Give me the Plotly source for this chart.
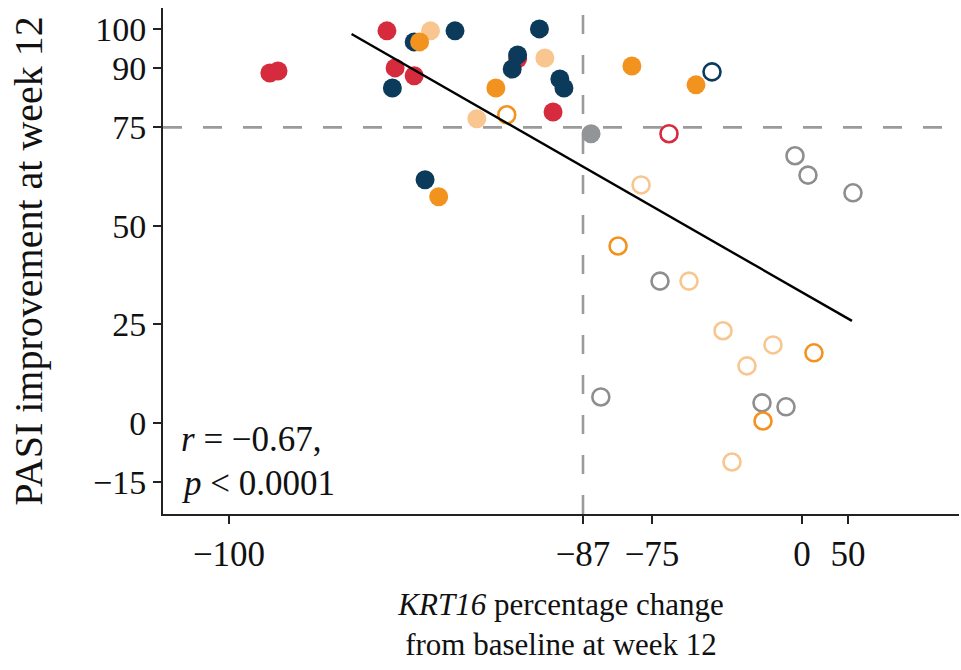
import numpy as np
import plotly.graph_objects as go

# KRT16 percentage change axis: tick values and their spacing along the axis
TICK_PCT = [-100, -87, -75, 0, 50]
TICK_TEXT = ["\u2212100", "\u221287", "\u221275", "0", "50"]
TICK_POS = [0, 354, 423, 573, 619]

Y_TICKS = [-15, 0, 25, 50, 75, 90, 100]

# Filled markers
red_x = [-98.5, -98.2, -94.2, -93.9, -93.2, -89.4, -88.1]
red_y = [88.8, 89.3, 99.5, 90.1, 88.1, 92.4, 78.9]
peach_x = [-92.6, -88.4, -90.9]
peach_y = [99.5, 92.6, 77.2]
navy_x = [-94.0, -93.2, -91.7, -92.8, -88.6, -89.4, -89.6, -87.85, -87.7]
navy_y = [85.0, 96.7, 99.5, 61.7, 100.0, 93.4, 89.8, 87.3, 85.0]
orange_x = [-93.0, -90.2, -92.3, -78.5, -53.0]
orange_y = [96.7, 85.0, 57.4, 90.6, 85.8]
grey_x = [-85.6]
grey_y = [73.4]

# Open markers
navy_open_x = [-45.0]
navy_open_y = [89.1]
red_open_x = [-66.5]
red_open_y = [73.4]
orange_open_x = [-89.8, -80.9, 13.0, -19.5]
orange_open_y = [78.2, 44.9, 17.8, 0.5]
peach_open_x = [-76.9, -56.5, -39.5, -14.5, -27.5, -35.0]
peach_open_y = [60.4, 36.0, 23.4, 19.8, 14.5, -9.9]
grey_open_x = [-71.0, -83.9, -20.0, -8.0, -3.5, 6.5, 55.4]
grey_open_y = [36.0, 6.6, 5.1, 4.1, 67.8, 62.9, 58.4]

# Regression line end points
fit_x = [-95.5, 54.3]
fit_y = [98.7, 25.9]

PASI_CUT = 75
KRT_CUT = -87

RED = "#D52B3C"
NAVY = "#0C3A5B"
ORANGE = "#F3931F"
PEACH = "#F8C68E"
GREY = "#929497"
GREY_OPEN = "#8E8E8E"


def to_axis(pct):
    """Map percentage change onto the piecewise axis scale."""
    p = np.asarray(pct, dtype=float)
    u = np.interp(p, TICK_PCT, TICK_POS)
    hi = (TICK_POS[-1] - TICK_POS[-2]) / (TICK_PCT[-1] - TICK_PCT[-2])
    u = np.where(p > TICK_PCT[-1], TICK_POS[-1] + (p - TICK_PCT[-1]) * hi, u)
    return u


FONT = "Liberation Serif"
fig = go.Figure()


def add_points(xs, ys, color, filled):
    if filled:
        marker = dict(symbol="circle", size=19, color=color, line=dict(width=0))
    else:
        marker = dict(symbol="circle-open", size=17, color=color,
                      line=dict(width=2.6, color=color))
    fig.add_trace(go.Scatter(x=to_axis(xs), y=ys, mode="markers",
                             marker=marker, showlegend=False, hoverinfo="skip"))


add_points(red_x, red_y, RED, True)
add_points(peach_x, peach_y, PEACH, True)
add_points(navy_x, navy_y, NAVY, True)
add_points(orange_x, orange_y, ORANGE, True)
add_points(grey_x, grey_y, GREY, True)
add_points(grey_open_x, grey_open_y, GREY_OPEN, False)
add_points(peach_open_x, peach_open_y, PEACH, False)
add_points(orange_open_x, orange_open_y, ORANGE, False)
add_points(red_open_x, red_open_y, RED, False)
add_points(navy_open_x, navy_open_y, NAVY, False)

fig.add_trace(go.Scatter(x=to_axis(fit_x), y=fit_y, mode="lines",
                         line=dict(color="black", width=2.4),
                         showlegend=False, hoverinfo="skip"))

DASH = dict(color="#9B9B9B", width=2.6, dash="19px,21px")
fig.add_shape(type="line", xref="paper", yref="y", x0=0, x1=1,
              y0=PASI_CUT, y1=PASI_CUT, line=DASH, layer="below")
kx = float(to_axis([KRT_CUT])[0])
fig.add_shape(type="line", xref="x", yref="paper", x0=kx, x1=kx,
              y0=0, y1=1, line=DASH, layer="below")

ANN_FONT = dict(family=FONT, size=35, color="#111")
fig.add_annotation(text="<i>r</i> = \u22120.67,", xref="paper", yref="paper",
                   x=0.02, y=0.148, xanchor="left", yanchor="middle",
                   showarrow=False, font=ANN_FONT)
fig.add_annotation(text="<i>p</i> &lt; 0.0001", xref="paper", yref="paper",
                   x=0.02, y=0.060, xanchor="left", yanchor="middle",
                   showarrow=False, font=ANN_FONT)

fig.update_layout(
    width=961, height=670,
    margin=dict(l=163, r=2, t=8, b=156),
    plot_bgcolor="white", paper_bgcolor="white",
    font=dict(family=FONT, size=31, color="#111"),
    xaxis=dict(
        range=[-66, 730],
        tickmode="array", tickvals=to_axis(TICK_PCT), ticktext=TICK_TEXT,
        tickfont=dict(family=FONT, size=35),
        showgrid=False, zeroline=False,
        showline=True, linecolor="#222", linewidth=2,
        ticks="outside", ticklen=8, tickwidth=2, tickcolor="#222",
        ticklabelstandoff=0,
        title=dict(text="<i>KRT16</i> percentage change<br>from baseline at week 12",
                   font=dict(family=FONT, size=31), standoff=20),
    ),
    yaxis=dict(
        range=[-23.1, 105.3],
        tickmode="array", tickvals=Y_TICKS,
        tickfont=dict(family=FONT, size=34),
        showgrid=False, zeroline=False,
        showline=True, linecolor="#222", linewidth=2,
        ticks="outside", ticklen=8, tickwidth=2, tickcolor="#222",
        title=dict(text="PASI improvement at week 12",
                   font=dict(family=FONT, size=40), standoff=38),
    ),
)

fig.write_html("out.html")
